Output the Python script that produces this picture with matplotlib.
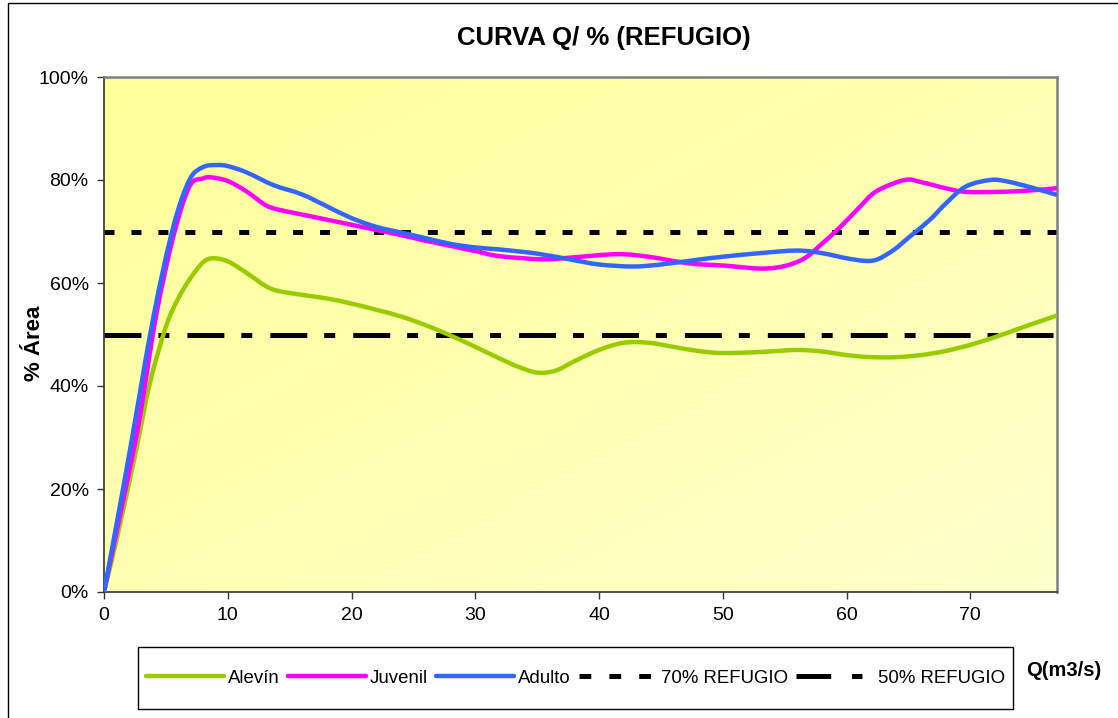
import numpy as np
import matplotlib
matplotlib.use('Agg')
import matplotlib.pyplot as plt
from matplotlib.lines import Line2D
from matplotlib.patches import Rectangle, PathPatch
from matplotlib.path import Path
from matplotlib.colors import LinearSegmentedColormap
from matplotlib.ticker import PercentFormatter

plt.rcParams['font.family'] = ['Liberation Sans', 'DejaVu Sans']
plt.rcParams['lines.scale_dashes'] = False

# caudal Q (m3/s) y % area por estadio
q_alevin = [0, 1, 2.6, 3.7, 5, 6, 7, 8, 8.8, 10, 11.5, 13, 14, 16, 18, 20, 22, 24, 26, 28,
            30, 32, 33.5, 35, 36.5, 38, 40, 42, 44, 46, 48, 50, 53, 56, 58, 60, 62, 64,
            66, 68, 70, 72, 74, 77]
alevin = [0, 10, 27.6, 40.5, 51.5, 57, 61, 64, 64.8, 64.2, 62, 59.5, 58.5, 57.7, 57, 56,
          54.8, 53.5, 51.8, 49.8, 47.6, 45.3, 43.7, 42.6, 43, 44.8, 47, 48.4, 48.4, 47.6,
          46.8, 46.4, 46.6, 47, 46.7, 46, 45.6, 45.6, 46, 46.8, 48, 49.5, 51.2, 53.7]

q_juvenil = [0, 1, 2, 2.9, 4.2, 5.6, 6.9, 8, 8.7, 10, 11.5, 13, 14, 16, 18, 20, 22, 24, 26,
             28, 30, 32, 35.5, 38, 41.5, 44, 47.3, 50, 53.1, 55, 56.6, 58, 59.5, 61, 62.4,
             64.7, 66, 68, 69.6, 72.5, 75, 77]
juvenil = [0, 11.5, 23, 34, 53.5, 69, 78.7, 80.3, 80.5, 79.8, 77.8, 75.2, 74.3, 73.3, 72.3,
           71.3, 70.3, 69.3, 68.2, 67.2, 66.2, 65.2, 64.6, 65, 65.6, 65.1, 63.8, 63.4, 62.8,
           63.3, 64.8, 67.6, 70.9, 74.6, 77.8, 80, 79.6, 78.4, 77.7, 77.7, 78, 78.4]

q_adulto = [0, 1, 2.1, 4, 5.6, 6.9, 8, 9.1, 10, 11.5, 13.7, 16, 18, 20, 22, 24, 26, 28,
            30, 32, 35, 37.8, 40, 42.7, 45, 47.9, 50, 53, 56, 58, 60, 61.5, 62.5, 63.8, 65,
            66.7, 68, 69.6, 71.6, 73, 75, 77]
adulto = [0, 13, 27.6, 53.5, 70.9, 80, 82.5, 82.9, 82.7, 81.5, 79, 77.2, 74.9,
          72.6, 70.9, 69.8, 68.7, 67.6, 66.9, 66.5, 65.7, 64.5, 63.6, 63.2, 63.6, 64.5, 65.1,
          65.8, 66.3, 65.8, 64.8, 64.3, 64.6, 66.4, 68.8, 72.2, 75.4, 78.7, 80, 79.7, 78.5,
          77.1]

refugio_70 = 70
refugio_50 = 50

labels = ['Alevín', 'Juvenil', 'Adulto', '70% REFUGIO', '50% REFUGIO']
colors = ['#99CC00', '#FF00FF', '#3366FF']


def linea_suave(ax, xs, ys, color, lw):
    # curva bezier que pasa por los puntos (como la linea suavizada de Excel)
    p = np.column_stack([xs, ys]).astype(float)
    ext = np.vstack([p[0], p, p[-1]])
    verts = [p[0]]
    codes = [Path.MOVETO]
    for i in range(len(p) - 1):
        p0, p1, p2, p3 = ext[i], ext[i + 1], ext[i + 2], ext[i + 3]
        verts += [p1 + (p2 - p0) / 6, p2 - (p3 - p1) / 6, p2]
        codes += [Path.CURVE4] * 3
    ax.add_patch(PathPatch(Path(verts, codes), fill=False, ec=color, lw=lw,
                           joinstyle='round', capstyle='butt', zorder=3))


W, H = 1118, 718
fig = plt.figure(figsize=(W / 100, H / 100), dpi=100)
ax = fig.add_axes([104 / W, 126 / H, 953 / W, 515 / H])

# fondo degradado
cmap = LinearSegmentedColormap.from_list('fondo', ['#FFFF99', '#FFFFCC'])
gx, gy = np.meshgrid(np.linspace(0, 1, 200), np.linspace(0, 1, 200))
ax.imshow((gx + gy) / 2, cmap=cmap, extent=[0, 77, 0, 100], aspect='auto',
          origin='upper', zorder=0, interpolation='bilinear')

dash70 = (0, (7.2, 12.2))
dash50 = (0, (26.6, 12.2, 7.9, 13))

ax.axhline(refugio_70, color='black', lw=3.6, linestyle=dash70, dash_capstyle='butt', zorder=2)
ax.axhline(refugio_50, color='black', lw=3.6, linestyle=dash50, dash_capstyle='butt', zorder=2)

linea_suave(ax, q_alevin, alevin, colors[0], 3.2)
linea_suave(ax, q_juvenil, juvenil, colors[1], 3.2)
linea_suave(ax, q_adulto, adulto, colors[2], 3.2)

ax.set_xlim(0, 77)
ax.set_ylim(0, 100)
ax.set_xticks(range(0, 80, 10))
ax.set_yticks(range(0, 101, 20))
ax.yaxis.set_major_formatter(PercentFormatter(100, decimals=0))
ax.tick_params(direction='out', length=5, width=1, labelsize=14, color='#333333')
ax.tick_params(axis='y', pad=6)
ax.tick_params(axis='x', pad=6)

for s in ['top', 'right']:
    ax.spines[s].set_color('#808080')
    ax.spines[s].set_linewidth(1.8)
for s in ['left', 'bottom']:
    ax.spines[s].set_color('#333333')
    ax.spines[s].set_linewidth(1.2)

fig.text(604 / W, 1 - 37.5 / H, 'CURVA Q/ % (REFUGIO)', ha='center', va='center',
         fontsize=18.5, fontweight='bold')
fig.text(35 / W, 1 - 343 / H, '% Área', ha='center', va='center', rotation=90,
         fontsize=16, fontweight='bold')
fig.text(1064 / W, 1 - 670 / H, 'Q(m3/s)', ha='center', va='center',
         fontsize=14.5, fontweight='bold')

# marco exterior y caja de leyenda
fig.add_artist(Rectangle((8 / W, -0.02), 1.1, 1.02 - 2.5 / H, transform=fig.transFigure,
                         fill=False, ec='black', lw=1))
fig.add_artist(Rectangle((138 / W, 9 / H), 875 / W, 62 / H, transform=fig.transFigure,
                         fill=False, ec='black', lw=1))

handles = [Line2D([], [], color=c, lw=3.2, solid_capstyle='round') for c in colors]
handles.append(Line2D([], [], color='black', lw=3.6, linestyle=(0, (8.5, 13)), dash_capstyle='butt'))
handles.append(Line2D([], [], color='black', lw=3.6, linestyle=(0, (25, 15, 7.5, 13)), dash_capstyle='butt'))
fig.legend(handles, labels, loc='center', bbox_to_anchor=(575.5 / W, 1 - 678 / H),
           ncol=5, frameon=False, fontsize=13.4, handlelength=4.2, handletextpad=0.2,
           columnspacing=0.45, borderpad=0, borderaxespad=0)

fig.savefig('out.png', dpi=100)
